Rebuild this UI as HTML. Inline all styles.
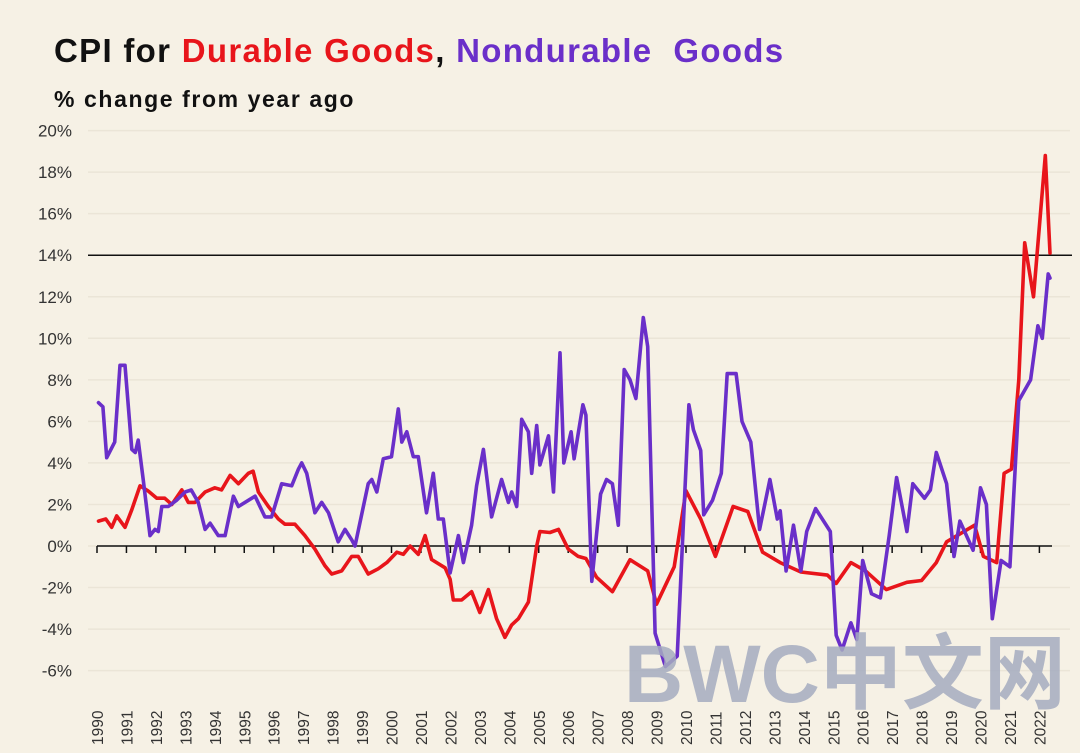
<!DOCTYPE html>
<html><head><meta charset="utf-8">
<style>
html,body{margin:0;padding:0;background:#f6f1e5;}
body{width:1080px;height:753px;overflow:hidden;position:relative;font-family:"Liberation Sans",sans-serif;}
#title{position:absolute;left:54px;top:32px;font-size:33px;font-weight:bold;color:#111;letter-spacing:1.3px;white-space:nowrap;}
#sub{position:absolute;left:54px;top:86px;font-size:23px;font-weight:bold;color:#111;letter-spacing:1.6px;white-space:nowrap;}
svg{position:absolute;left:0;top:0;}
</style></head>
<body>
<div id="title">CPI for <span style="color:#e8151b">Durable Goods</span>, <span style="color:#6a2fc9">Nondurable&nbsp; Goods</span></div>
<div id="sub">% change from year ago</div>
<svg id="chart" width="1080" height="753"></svg>
<script>
const yTicks=[20,18,16,14,12,10,8,6,4,2,0,-2,-4,-6];
const years=[1990,1991,1992,1993,1994,1995,1996,1997,1998,1999,2000,2001,2002,2003,2004,2005,2006,2007,2008,2009,2010,2011,2012,2013,2014,2015,2016,2017,2018,2019,2020,2021,2022];
const durT=[1990.05,1990.3,1990.5,1990.67,1990.95,1991.18,1991.46,1991.74,1992.03,1992.3,1992.54,1992.88,1993.1,1993.33,1993.67,1994.0,1994.23,1994.52,1994.8,1995.14,1995.3,1995.48,1995.82,1996.16,1996.38,1996.72,1997.06,1997.4,1997.74,1997.97,1998.31,1998.65,1998.87,1999.21,1999.55,1999.84,2000.18,2000.4,2000.63,2000.91,2001.14,2001.36,2001.82,2001.99,2002.1,2002.38,2002.72,2003.0,2003.29,2003.57,2003.85,2004.08,2004.31,2004.65,2004.93,2005.04,2005.38,2005.67,2006.0,2006.34,2006.6,2006.96,2007.5,2008.1,2008.7,2009.0,2009.6,2010.0,2010.5,2011.0,2011.6,2012.1,2012.6,2013.2,2013.9,2014.8,2015.1,2015.6,2016.1,2016.8,2017.5,2018.0,2018.5,2018.85,2019.8,2020.1,2020.55,2020.8,2021.05,2021.3,2021.5,2021.8,2022.2,2022.36];
const durV=[1.2,1.3,0.9,1.45,0.9,1.75,2.9,2.65,2.3,2.3,2.0,2.7,2.1,2.1,2.6,2.8,2.7,3.4,3.0,3.5,3.6,2.6,1.9,1.3,1.05,1.05,0.5,-0.15,-0.95,-1.35,-1.2,-0.5,-0.5,-1.35,-1.1,-0.8,-0.3,-0.4,0.0,-0.4,0.5,-0.65,-1.05,-1.6,-2.6,-2.6,-2.2,-3.2,-2.1,-3.5,-4.4,-3.8,-3.5,-2.7,0.0,0.7,0.65,0.8,-0.15,-0.5,-0.6,-1.5,-2.2,-0.66,-1.2,-2.8,-1.0,2.66,1.3,-0.5,1.9,1.66,-0.3,-0.8,-1.25,-1.4,-1.8,-0.8,-1.2,-2.1,-1.75,-1.66,-0.8,0.2,1.0,-0.5,-0.8,3.5,3.7,8.0,14.6,12.0,18.8,14.1];
const nonT=[1990.05,1990.2,1990.33,1990.6,1990.78,1990.95,1991.18,1991.3,1991.4,1991.57,1991.8,1991.97,1992.08,1992.2,1992.42,1992.7,1992.99,1993.2,1993.44,1993.67,1993.84,1994.12,1994.35,1994.63,1994.8,1995.14,1995.37,1995.7,1995.93,1996.27,1996.61,1996.84,1996.95,1997.12,1997.4,1997.63,1997.86,1998.19,1998.42,1998.65,1998.76,1999.21,1999.33,1999.5,1999.72,2000.0,2000.23,2000.35,2000.52,2000.74,2000.91,2001.19,2001.42,2001.59,2001.76,2001.99,2002.27,2002.44,2002.72,2002.89,2003.12,2003.4,2003.74,2003.97,2004.08,2004.25,2004.42,2004.65,2004.76,2004.93,2005.04,2005.33,2005.5,2005.72,2005.85,2006.1,2006.2,2006.5,2006.6,2006.8,2007.1,2007.3,2007.5,2007.7,2007.9,2008.1,2008.3,2008.55,2008.7,2008.95,2009.3,2009.7,2010.1,2010.25,2010.5,2010.6,2010.9,2011.2,2011.4,2011.7,2011.9,2012.2,2012.5,2012.85,2013.1,2013.2,2013.4,2013.65,2013.9,2014.1,2014.4,2014.9,2015.1,2015.3,2015.6,2015.8,2016.0,2016.3,2016.6,2016.9,2017.15,2017.5,2017.7,2018.1,2018.3,2018.5,2018.85,2019.1,2019.3,2019.75,2020.0,2020.2,2020.4,2020.7,2021.0,2021.3,2021.7,2021.95,2022.1,2022.3,2022.36];
const nonV=[6.9,6.7,4.25,5.0,8.7,8.7,4.65,4.5,5.1,3.2,0.5,0.8,0.7,1.9,1.9,2.2,2.6,2.7,2.1,0.8,1.1,0.5,0.5,2.4,1.9,2.2,2.4,1.4,1.4,3.0,2.9,3.7,4.0,3.5,1.6,2.1,1.6,0.2,0.8,0.3,0.0,3.0,3.2,2.6,4.2,4.3,6.6,5.0,5.5,4.3,4.3,1.6,3.5,1.3,1.3,-1.3,0.5,-0.8,1.0,2.9,4.65,1.4,3.2,2.1,2.6,1.9,6.1,5.5,3.5,5.8,3.9,5.3,2.6,9.3,4.0,5.5,4.2,6.8,6.3,-1.7,2.5,3.2,3.0,1.0,8.5,8.0,7.1,11.0,9.6,-4.2,-5.8,-5.3,6.8,5.6,4.6,1.5,2.2,3.5,8.3,8.3,6.0,5.0,0.8,3.2,1.3,1.7,-1.2,1.0,-1.2,0.7,1.8,0.7,-4.3,-5.0,-3.7,-4.5,-0.7,-2.3,-2.5,0.5,3.3,0.7,3.0,2.3,2.7,4.5,3.0,-0.5,1.2,-0.2,2.8,2.0,-3.5,-0.7,-1.0,7.0,8.0,10.6,10.0,13.1,12.9];

const NS='http://www.w3.org/2000/svg';
const svg=document.getElementById('chart');
function X(t){return 97+(t-1990)*29.45;}
function Y(v){return 546-v*20.77;}
function mk(tag,attrs,parent){const e=document.createElementNS(NS,tag);for(const k in attrs)e.setAttribute(k,attrs[k]);(parent||svg).appendChild(e);return e;}

yTicks.forEach(v=>{
  const g=mk('line',{x1:88,x2:1070,y1:Y(v),y2:Y(v),stroke:'#ebe5d7','stroke-width':1.5});
  
  
  const t=mk('text',{x:72,y:Y(v)+6,'text-anchor':'end','font-size':17,fill:'#333','font-family':'Liberation Sans, sans-serif'});
  t.textContent=v+'%';
  
  
});
const ref=mk('line',{x1:88,x2:1072,y1:Y(14),y2:Y(14),stroke:'#111','stroke-width':1.5});


const ax=mk('line',{x1:97,x2:1052,y1:Y(0),y2:Y(0),stroke:'#111','stroke-width':1.5});


years.forEach(yr=>{
  const tk=mk('line',{x1:X(yr),x2:X(yr),y1:Y(0),y2:Y(0)+7,stroke:'#111','stroke-width':1.5});
  
  
  const cx=X(yr)+6;
  const t=mk('text',{x:cx,y:745,transform:'rotate(-90 '+cx+' 745)','font-size':15.5,fill:'#333','font-family':'Liberation Sans, sans-serif'});
  t.textContent=yr;
  
  
});
function path(T,V){return T.map((t,i)=>(i?'L':'M')+X(t).toFixed(1)+' '+Y(V[i]).toFixed(1)).join(' ');}
const pd=mk('path',{d:path(durT,durV),fill:'none',stroke:'#e8151b','stroke-width':3.6,'stroke-linejoin':'round','stroke-linecap':'round'});


const pn=mk('path',{d:path(nonT,nonV),fill:'none',stroke:'#6a2fc9','stroke-width':3.6,'stroke-linejoin':'round','stroke-linecap':'round'});


const wm=mk('text',{x:624,y:702,'font-size':82,'font-weight':'bold',fill:'#a4abc0','fill-opacity':0.85,'font-family':'Liberation Sans, Noto Sans CJK SC, sans-serif'});
wm.textContent='BWC中文网';


</script>
</body></html>
